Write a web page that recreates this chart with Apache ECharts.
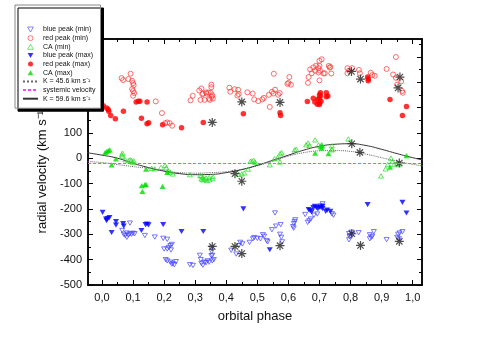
<!DOCTYPE html>
<html><head><meta charset="utf-8">
<script src="https://cdn.jsdelivr.net/npm/echarts@6/dist/echarts.min.js"></script>
<style>html,body{margin:0;padding:0;background:#fff}#c{width:491px;height:345px}</style>
</head><body><div id="c"></div>
<script>
// ---- axis ticks ----
const xMajorTicks = [0,0.1,0.2,0.3,0.4,0.5,0.6,0.7,0.8,0.9,1.0];
const xMinorTicks = [0.05,0.15,0.25,0.35,0.45,0.55,0.65,0.75,0.85,0.95];
const yMajorTicks = [-500,-400,-300,-200,-100,0,100,200,300,400];
const yMinorTicks = [-450,-350,-250,-150,-50,50,150,250,350,450];
const X_MIN = -0.045, X_MAX = 1.03, Y_MIN = -500, Y_MAX = 470;

// ---- data [phase, km/s] ----
const bluePeakMin = [[0.065,-285],[0.07,-300],[0.075,-305],[0.08,-295],[0.085,-303],[0.09,-298],[0.095,-300],[0.1,-296],[0.105,-298],[0.09,-256],[0.08,-312],
[0.138,-305],[0.17,-311],[0.197,-316],[0.21,-320],[0.22,-345],[0.225,-340],[0.215,-352],[0.21,-358],[0.2,-358],[0.222,-362],
[0.205,-400],[0.21,-405],[0.22,-410],[0.228,-415],[0.233,-420],[0.238,-408],[0.225,-418],[0.283,-420],[0.293,-423],
[0.315,-383],[0.318,-400],[0.32,-415],[0.325,-422],[0.33,-410],[0.34,-405],[0.345,-410],[0.355,-405],[0.36,-400],[0.355,-383],
[0.352,-355],[0.353,-368],[0.352,-385],[0.335,-412],
[0.416,-363],[0.432,-378],[0.44,-345],[0.445,-332],[0.452,-338],
[0.475,-332],[0.486,-318],[0.49,-313],[0.5,-316],[0.51,-318],[0.518,-302],[0.522,-308],[0.53,-325],[0.533,-330],
[0.547,-282],[0.557,-216],[0.56,-268],[0.575,-262],[0.573,-300],[0.577,-312],[0.58,-330],
[0.615,-270],[0.617,-276],[0.62,-250],[0.622,-243],[0.618,-258],
[0.662,-253],[0.667,-247],[0.672,-240],[0.654,-222],[0.682,-225],[0.693,-220],[0.71,-180],[0.703,-188],
[0.74,-219],[0.745,-225],[0.795,-297],[0.803,-292],[0.797,-310],[0.795,-322],[0.806,-302],[0.826,-294],
[0.862,-302],[0.867,-312],[0.862,-318],[0.875,-290],[0.87,-308],[0.916,-321],
[0.953,-300],[0.958,-295],[0.967,-290],[0.95,-312],[0.956,-318]];
const redPeakMin = [[0.063,316],[0.068,308],[0.092,333],[0.085,312],[0.097,305],[0.1,296],[0.102,288],[0.097,273],[0.1,265],[0.104,257],[0.1,246],
[0.173,224],[0.193,178],[0.21,141],[0.218,138],[0.226,128],[0.203,138],
[0.285,228],[0.292,246],[0.313,267],[0.323,252],[0.337,255],[0.343,259],[0.35,258],[0.353,242],[0.347,230],[0.33,230],[0.317,230],
[0.32,275],[0.325,255],[0.335,260],[0.352,290],[0.352,280],[0.355,248],[0.357,235],[0.345,235],
[0.41,278],[0.413,262],[0.427,272],[0.438,270],[0.44,253],[0.436,247],
[0.468,260],[0.485,255],[0.49,232],[0.503,225],[0.516,232],[0.521,238],[0.537,250],[0.547,262],[0.552,255],[0.557,270],[0.567,250],[0.572,257],
[0.54,202],[0.553,333],[0.603,320],[0.6,297],[0.608,290],[0.597,293],[0.663,297],
[0.67,350],[0.675,335],[0.68,358],[0.689,365],[0.697,355],[0.686,345],[0.702,345],[0.707,390],[0.717,335],[0.733,357],[0.7,307],[0.665,320],
[0.7,384],[0.7,364],[0.697,338],[0.713,334],[0.735,360],[0.738,334],[0.73,364],
[0.79,355],[0.795,345],[0.79,335],[0.805,355],[0.827,348],[0.83,335],[0.865,337],[0.87,328],[0.878,325],
[0.946,399],[0.916,352],[0.937,330],[0.946,317],[0.95,290],[0.963,303],[0.968,258],[0.966,265]];
const caMin = [[0.064,14],[0.066,20],[0.065,8],[0.075,-6],[0.085,-10],[0.09,-6],[0.095,-9],[0.1,-16],[0.102,-10],
[0.16,-40],[0.17,-42],[0.19,-36],[0.203,-28],[0.207,-38],[0.213,-50],[0.22,-55],[0.228,-62],[0.283,-65],
[0.316,-68],[0.325,-76],[0.33,-82],[0.338,-88],[0.345,-76],[0.355,-80],[0.32,-82],[0.32,-70],[0.325,-85],[0.335,-78],[0.345,-85],[0.357,-72],
[0.44,-63],[0.45,-62],[0.458,-58],[0.47,-43],[0.483,-12],[0.488,-8],[0.478,-12],[0.493,-16],
[0.54,-26],[0.555,-2],[0.565,2],[0.573,18],[0.578,22],[0.573,-15],[0.62,33],[0.625,35],
[0.657,53],[0.663,60],[0.668,50],[0.686,72],[0.697,52],[0.703,45],[0.708,50],
[0.74,36],[0.707,53],[0.74,49],[0.74,33],[0.793,76],
[0.93,0],[0.935,-12],[0.92,-25],[0.913,-42],[0.898,-70],[0.94,-25],[0.955,-25],[0.95,-20]];
const bluePeakMax = [[0.002,-214],[0.013,-240],[0.018,-238],[0.024,-234],[0.015,-246],[0.031,-293],[0.045,-250],[0.045,-264],[0.068,-258],[0.07,-268],
[0.127,-285],[0.14,-262],[0.145,-260],[0.15,-263],[0.197,-262],[0.256,-289],[0.326,-289],[0.455,-200],[0.54,-361],
[0.665,-203],[0.67,-207],[0.675,-212],[0.68,-195],[0.685,-190],[0.69,-195],[0.695,-200],[0.7,-193],[0.71,-190],[0.725,-205],[0.735,-210],
[0.705,-194],[0.71,-199],[0.72,-210],[0.855,-183],[0.967,-174],[0.98,-216]];
const redPeakMax = [[0.004,207],[0.015,198],[0.02,192],[0.022,185],[0.028,168],[0.043,156],[0.069,185],[0.11,222],[0.117,225],[0.122,225],[0.145,222],
[0.127,158],[0.145,136],[0.15,140],[0.195,132],[0.256,120],[0.326,141],[0.455,175],[0.573,179],[0.575,168],
[0.661,224],[0.68,236],[0.685,222],[0.695,232],[0.7,218],[0.693,213],[0.703,258],[0.703,245],[0.727,245],
[0.7,250],[0.7,235],[0.705,225],[0.7,212],[0.722,258],[0.722,242],
[0.855,320],[0.857,312],[0.857,305],[0.927,231],[0.98,204],[0.967,168]];
const caMax = [[0.01,22],[0.015,26],[0.02,30],[0.025,33],[0.045,-3],[0.031,-26],[0.142,-43],[0.128,-108],[0.138,-104],[0.142,-104],[0.13,-131],
[0.195,-111],[0.21,-56],[0.686,20],[0.707,47],[0.729,18],[0.707,40],[0.927,-35],[0.98,10]];
const asterisks = [[0.355,141],[0.45,222],[0.573,220],[0.803,342],[0.832,312],[0.959,320],[0.953,277],
[0.428,-61],[0.45,-91],[0.804,57],[0.83,23],[0.957,-19],
[0.355,-348],[0.428,-348],[0.45,-376],[0.573,-345],[0.804,-298],[0.832,-344],[0.957,-328]];
// model curves
const curvePhases = [-0.05,0,0.05,0.1,0.15,0.2,0.25,0.3,0.35,0.4,0.45,0.5,0.55,0.6,0.65,0.7,0.75,0.8,0.85,0.9,0.95,1.0,1.05];
const curveK596 = [22,12,0,-20,-37,-51,-61,-65,-64,-57,-45,-28,-8,12,32,47,55,57,50,35,18,2,-12];
const curveK456 = [-13,-17,-25,-33,-40,-50,-57,-59,-57,-53,-44,-30,-12,8,22,29,30,27,16,2,-12,-24,-34];
const systemicVelocity = -18;

const FONT = 'Liberation Sans';
const chart = echarts.init(document.getElementById('c'), null, {renderer:'canvas'});
const zip = (xs, ys) => xs.map((x,i)=>[x, ys[i]]);

const TRI_DOWN = 'path://M0,0 L10,0 L5,8.66 Z';
const TRI_UP = 'path://M5,0 L10,8.66 L0,8.66 Z';
const CIRCLE = 'path://M10,5 A5,5 0 1 1 0,5 A5,5 0 1 1 10,5 Z';

function xAx(pos, ticks, len, withLabels) {
  const a = {type:'value', position:pos, min:X_MIN, max:X_MAX,
    axisLine:{show:true, onZero:false, lineStyle:{color:'#000', width:1.5}},
    axisTick:{show:true, inside:true, length:len, customValues:ticks, lineStyle:{color:'#000', width:1}},
    axisLabel:{show:false}, splitLine:{show:false}};
  if (withLabels) {
    a.axisLabel = {show:true, customValues:xMajorTicks, margin:7, fontFamily:FONT, fontSize:11, color:'#111',
      formatter:v=>v.toFixed(1).replace('.', ',')};
    a.name = 'orbital phase'; a.nameLocation = 'middle'; a.nameGap = 25;
    a.nameTextStyle = {fontFamily:FONT, fontSize:13, color:'#111'};
  }
  return a;
}
function yAx(pos, ticks, len, withLabels) {
  const a = {type:'value', position:pos, min:Y_MIN, max:Y_MAX,
    axisLine:{show:true, onZero:false, lineStyle:{color:'#000', width:1.5}},
    axisTick:{show:true, inside:true, length:len, customValues:ticks, lineStyle:{color:'#000', width:1}},
    axisLabel:{show:false}, splitLine:{show:false}};
  if (withLabels) {
    a.axisLabel = {show:true, customValues:yMajorTicks, margin:6, fontFamily:FONT, fontSize:11, color:'#111'};
    a.name = 'radial velocity (km s\u207B\u00B9)'; a.nameLocation = 'middle'; a.nameGap = 36;
    a.nameTextStyle = {fontFamily:FONT, fontSize:13, color:'#111', padding:[0,16,0,0]};
  }
  return a;
}

const names = ['blue peak (min)','red peak (min)','CA (min)','blue peak (max)','red peak (max)','CA (max)',
  'K = 45.6 km s\u207B\u00B9','systemic velocity','K = 59.6 km s\u207B\u00B9'];

const openSc = (name, data, symbol, color) => ({name, type:'scatter', data, symbol, symbolSize:5, symbolKeepAspect:true,
  itemStyle:{color:'rgba(255,255,255,0)', borderColor:color, borderWidth:0.9}, z:3});
const fillSc = (name, data, symbol, color, size) => ({name, type:'scatter', data, symbol, symbolSize:size, symbolKeepAspect:true,
  itemStyle:{color, borderWidth:0}, z:3});
const HIDE = {color:'rgba(0,0,0,0)', borderWidth:0};

chart.setOption({
  animation:false,
  grid:{left:88, right:69, top:39, bottom:60, containLabel:false},
  xAxis:[xAx('bottom', xMajorTicks, 5, true), xAx('bottom', xMinorTicks, 3, false), xAx('top', xMajorTicks, 5, false), xAx('top', xMinorTicks, 3, false)],
  yAxis:[yAx('left', yMajorTicks, 5, true), yAx('left', yMinorTicks, 3, false), yAx('right', yMajorTicks, 5, false), yAx('right', yMinorTicks, 3, false)],
  legend:{orient:'vertical', left:15, top:5, data:names, itemWidth:15, itemHeight:5, itemGap:-0.35,
    padding:[20,5,5,7], backgroundColor:'#fff', borderColor:'#888', borderWidth:1,
    shadowColor:'#000', shadowBlur:0, shadowOffsetX:3, shadowOffsetY:3,
    itemStyle:{borderWidth:0.8},
    textStyle:{fontFamily:FONT, fontSize:7, lineHeight:9, color:'#111'}},
  series:[
    openSc(names[0], bluePeakMin, TRI_DOWN, '#4444ff'),
    openSc(names[1], redPeakMin, CIRCLE, '#ff3333'),
    openSc(names[2], caMin, TRI_UP, '#22dd22'),
    fillSc(names[3], bluePeakMax, TRI_DOWN, '#0000ff', 6),
    fillSc(names[4], redPeakMax, 'circle', '#ff0000', 5.5),
    fillSc(names[5], caMax, TRI_UP, '#00dd00', 6),
    {name:names[6], type:'line', data:zip(curvePhases, curveK456), smooth:true, symbol:'none', itemStyle:HIDE,
      lineStyle:{color:'#666', width:1, type:'dotted'}, z:2},
    {name:names[7], type:'line', data:[], symbol:'none', itemStyle:HIDE, lineStyle:{color:'#ff44ff', width:1, type:[3,2]},
      markLine:{silent:true, symbol:'none', label:{show:false}, lineStyle:{color:'#ff44ff', width:1, type:[3,2]},
        data:[{yAxis:systemicVelocity}]}, z:2},
    {name:names[8], type:'line', data:zip(curvePhases, curveK596), smooth:true, symbol:'none', itemStyle:HIDE,
      lineStyle:{color:'#333', width:1, type:'solid'}, z:2},
    {name:'asterisk', type:'scatter', data:asterisks, symbolSize:9,
      symbol:'path://M5,0 L5,10 M0,5 L10,5 M1.5,1.5 L8.5,8.5 M8.5,1.5 L1.5,8.5',
      itemStyle:{color:'rgba(0,0,0,0)', borderColor:'#222', borderWidth:1.2}, z:4}
  ]
});
</script></body></html>
